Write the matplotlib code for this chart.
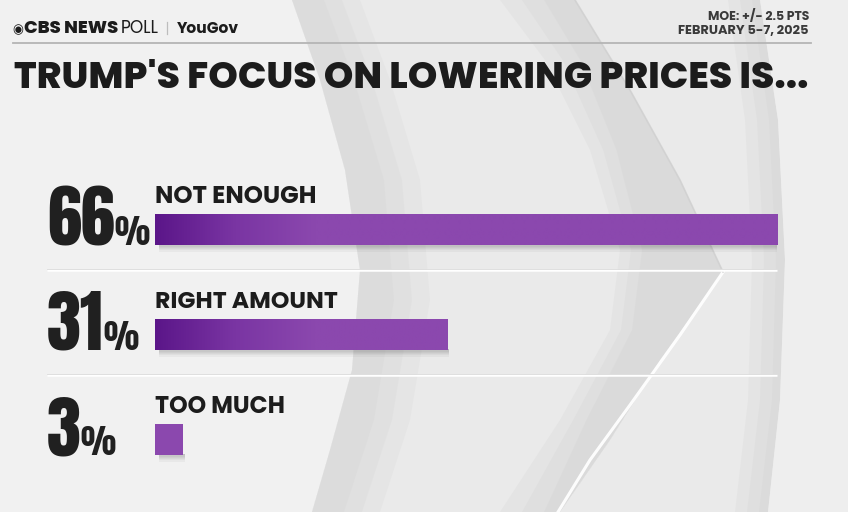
import matplotlib
matplotlib.use("Agg")
import matplotlib.pyplot as plt
import numpy as np
from matplotlib import font_manager as fm
from matplotlib.patches import Polygon, Rectangle
from matplotlib.colors import LinearSegmentedColormap
from matplotlib.textpath import TextPath
from matplotlib.font_manager import FontProperties

# ---------------- data ----------------
categories = ["NOT ENOUGH", "RIGHT AMOUNT", "TOO MUCH"]
values = [66, 31, 3]
title = "TRUMP'S FOCUS ON LOWERING PRICES IS..."
moe_text = "MOE: +/- 2.5 PTS"
date_text = "FEBRUARY 5-7, 2025"
brand_cbs = "CBS NEWS"
brand_poll = "POLL"
brand_yougov = "YouGov"

# ---------------- fonts ----------------
def _w(w):
    if isinstance(w, str):
        return fm.weight_dict.get(w, 400)
    return int(w)

entries = {}
for f in fm.fontManager.ttflist:
    entries.setdefault(f.name, set()).add((_w(f.weight), f.style))

def pick(cands, weight):
    for c in cands:
        if c in entries and any(w >= weight - 50 and st == "normal" for w, st in entries[c]):
            return c
    return "DejaVu Sans"

def best_weight(fam, lo, hi):
    ws = [w for w, st in entries.get(fam, []) if st == "normal" and lo <= w <= hi]
    if ws:
        return max(ws)
    ws = [w for w, st in entries.get(fam, []) if st == "normal"]
    return max(ws) if ws else 700

F_HEAD = pick(["Montserrat", "Poppins", "Lato", "Open Sans"], 800)
F_LAB = pick(["Montserrat", "Poppins", "Lato", "Open Sans"], 700)

TXT = "#1c1c1c"
W, H = 848, 512
DPI = 100
PX_PER_PT = DPI / 72.0
fig = plt.figure(figsize=(W / DPI, H / DPI), dpi=DPI)
fig.patch.set_facecolor("#eaeaea")
R = fig.canvas.get_renderer()

def fit_w(t, target):
    bb = t.get_window_extent(R)
    t.set_fontsize(t.get_fontsize() * target / bb.width)

def ink(s, fam, wgt):
    """ink extents of a string at size 100"""
    e = TextPath((0, 0), s, size=100, prop=FontProperties(family=fam, weight=wgt)).get_extents()
    return e.width, e.height

def size_for_ink_height(s, fam, wgt, target_px):
    _, h = ink(s, fam, wgt)
    return 100.0 * target_px / (h * PX_PER_PT)

# choose the heavy condensed numeral face whose digit proportions best match the reference
heavy_display = ["Anton", "Bebas Neue", "Fjalla One", "League Gothic", "Francois One", "Antonio",
                 "Pathway Gothic One", "Passion One"]
num_cands = heavy_display + ["Barlow Condensed", "Roboto Condensed", "Oswald", "Archivo Narrow",
             "Saira Condensed", "Encode Sans Condensed", "PT Sans Narrow", "IBM Plex Sans Condensed",
             "Barlow Semi Condensed", "Big Shoulders Display", "Sofia Sans Condensed",
             "Liberation Sans Narrow"]
targets = {"66": 71 / 60, "31": 53 / 60, "3": 31 / 60}
best, best_err = "DejaVu Sans", 1e9
for fam in num_cands:
    if fam not in entries:
        continue
    if fam not in heavy_display and not any(w >= 600 for w, st in entries[fam]):
        continue
    wgt = best_weight(fam, 600, 900)
    try:
        err = 0.0
        for s, r in targets.items():
            w_, h_ = ink(s, fam, wgt)
            err += abs(w_ / h_ - r)
    except Exception:
        continue
    if err < best_err:
        best, best_err = fam, err
F_NUM = best
W_NUM = best_weight(F_NUM, 600, 900)

# ---------------- background decoration (pixel coordinates) ----------------
bg = fig.add_axes([0, 0, 1, 1], zorder=0)
bg.set_xlim(0, W); bg.set_ylim(H, 0); bg.axis("off")

def poly(pts, **kw):
    bg.add_patch(Polygon(pts, closed=True, **kw))

poly([(0, 0), (292, 0), (320, 80), (345, 170), (360, 270), (352, 370), (330, 450), (312, 512), (0, 512)],
     facecolor="#f1f1f1", edgecolor="none")
for k in range(3):
    d = 18 * k
    poly([(292, 0), (320, 80), (345, 170), (360, 270), (352, 370), (330, 450), (312, 512),
          (380 - d, 512), (410 - d, 420), (430 - d, 300), (420 - d, 180), (390 - d, 80), (360 - d, 0)],
         facecolor="#c8c8c8", edgecolor="none", alpha=0.14)
for k in range(3):
    d = 22 * k
    poly([(500 + d, 0), (575, 0), (630, 90), (680, 180), (723, 272), (660, 360), (610, 440), (560, 512),
          (500 + d, 512), (560 + d * 0.6, 420), (610 + d * 0.5, 330), (620 + d * 0.5, 250),
          (590 + d * 0.6, 150), (545 + d * 0.8, 60)],
         facecolor="#c6c6c6", edgecolor="none", alpha=0.16)
bg.plot([723, 680, 630, 590, 558], [272, 335, 405, 460, 512], color="white", lw=2.2, alpha=0.95)
bg.plot([575, 630, 680, 723], [0, 90, 180, 272], color="#cfcfcf", lw=1.2, alpha=0.8)
for k in range(3):
    d = 12 * k
    poly([(760, 0), (778, 120), (785, 260), (780, 400), (768, 512), (735 + d, 512), (748 + d, 400),
          (752 + d, 260), (745 + d, 120), (728 + d, 0)],
         facecolor="#c8c8c8", edgecolor="none", alpha=0.16)
poly([(760, 0), (778, 120), (785, 260), (780, 400), (768, 512), (848, 512), (848, 0)],
     facecolor="#eeeeee", edgecolor="none")

# ---------------- main bar axes ----------------
px_per_unit = 622 / max(values)
top_px, bot_px = 160, 490
row_px = [229.5, 334.5, 439.5]
step = 105.0
ax = fig.add_axes([155 / W, 1 - bot_px / H, 622 / W, (bot_px - top_px) / H], zorder=2)
ax.patch.set_alpha(0)
for s in ax.spines.values():
    s.set_visible(False)
ax.set_xticks([]); ax.set_yticks([])

y = np.arange(len(values))
bar_h = 31 / step
light = "#8b48ae"
dark = "#5b1689"
cmap = LinearSegmentedColormap.from_list("pur", [dark, "#7a35a3", light])

for i, v in enumerate(values):
    for k in range(1, 7):
        ax.add_patch(Rectangle((0.4, i + bar_h / 2 - 0.01), v - 0.2, k * 1.3 / step,
                               facecolor="black", alpha=0.035, edgecolor="none", zorder=1))

bars = ax.barh(y, values, height=bar_h, color=light, zorder=2)
for i, (b, v) in enumerate(zip(bars, values)):
    if v > 10:
        xs = np.linspace(0, v, 400)
        t = np.clip(xs / 17.0, 0, 1)
        im = ax.imshow(t[None, :], cmap=cmap, vmin=0, vmax=1, aspect="auto",
                       extent=(0, v, i + bar_h / 2, i - bar_h / 2), zorder=3, interpolation="bilinear")
        im.set_clip_path(b)

ax.set_xlim(0, max(values))
ax.set_ylim(2 + (bot_px - row_px[2]) / step, -(row_px[0] - top_px) / step)

x_left = -(155 - 47) / px_per_unit
for i in range(len(values) - 1):
    ax.plot([x_left, max(values)], [i + 0.386, i + 0.386], color="white", lw=1.8, zorder=1,
            clip_on=False, solid_capstyle="butt")
    ax.plot([x_left, max(values)], [i + 0.386 - 0.012, i + 0.386 - 0.012], color="#dadada", lw=0.6,
            zorder=1, clip_on=False)

# category labels
label_w = [162, 183, 130]
for i, c in enumerate(categories):
    t = ax.annotate(c, xy=(0, i - bar_h / 2), xytext=(0, 11 * 0.72), textcoords="offset points",
                    ha="left", va="baseline", fontsize=14, family=F_LAB, weight=700, color=TXT,
                    annotation_clip=False)
    fit_w(t, label_w[i])

# percentages
fs_pct = size_for_ink_height("%", F_NUM, W_NUM, 29)
for i, v in enumerate(values):
    s = f"{v}"
    fs = size_for_ink_height(s, F_NUM, W_NUM, 60)
    n = ax.annotate(s, xy=(x_left, i + bar_h / 2), xytext=(0, 0), textcoords="offset points",
                    ha="left", va="baseline", fontsize=fs, family=F_NUM, weight=W_NUM, color="#202020",
                    annotation_clip=False)
    bb = n.get_window_extent(R)
    base_y = ax.transData.transform((0, i + bar_h / 2))[1]
    ax.annotate("%", xy=(bb.x1 - 0.5, base_y), xycoords="figure pixels",
                ha="left", va="baseline", fontsize=fs_pct, family=F_NUM, weight=W_NUM, color="#202020",
                annotation_clip=False)

# ---------------- header overlay (pixel coordinates) ----------------
ov = fig.add_axes([0, 0, 1, 1], zorder=5)
ov.set_xlim(0, W); ov.set_ylim(H, 0); ov.axis("off"); ov.patch.set_alpha(0)

ov.plot([13, 811], [43, 43], color="#b5b5b5", lw=1.3)

eye = ov.text(12, 33, "\u25c9", ha="left", va="baseline", fontsize=9, family="DejaVu Sans", color=TXT)
t1 = ov.text(23.5, 33, brand_cbs, ha="left", va="baseline", fontsize=12, family=F_HEAD, weight=800, color=TXT)
fit_w(t1, 94)
t2 = ov.text(121, 33, brand_poll, ha="left", va="baseline", fontsize=12, family=F_LAB, weight=400, color=TXT)
fit_w(t2, 38)
ov.plot([167, 167], [22, 34], color="#bdbdbd", lw=0.9)
t3 = ov.text(177, 33, brand_yougov, ha="left", va="baseline", fontsize=12, family=F_LAB, weight=700, color=TXT)
fit_w(t3, 62)

m = ov.text(809, 19.5, moe_text, ha="right", va="baseline", fontsize=8, family=F_LAB, weight=700, color="#3a3a3a")
fit_w(m, 102)
d = ov.text(809, 33.5, date_text, ha="right", va="baseline", fontsize=8, family=F_LAB, weight=700, color="#3a3a3a")
fit_w(d, 131)

tt = ov.text(14, 87.5, title, ha="left", va="baseline", fontsize=24, family=F_HEAD, weight=800, color=TXT)
fit_w(tt, 795)

fig.savefig("out.png", dpi=DPI, facecolor=fig.get_facecolor())
